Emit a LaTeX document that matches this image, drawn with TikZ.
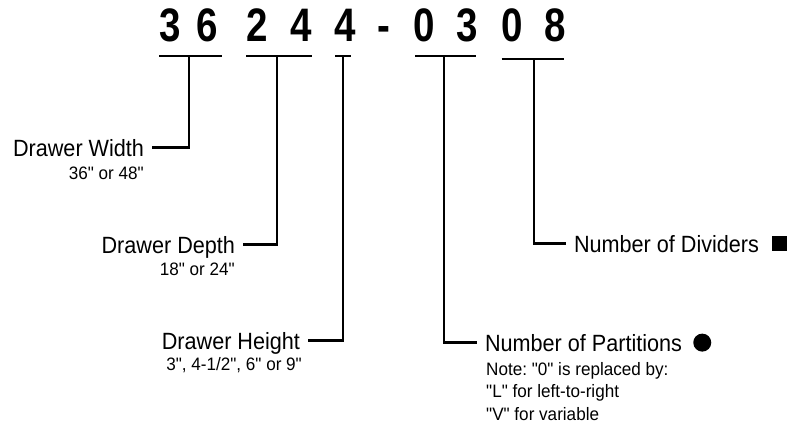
\documentclass[tikz,border=0pt]{standalone}
\usepackage{fontspec}
\setmainfont{Liberation Sans}[Ligatures=TeXOff]
\newfontfamily\codefont{Liberation Sans}[FakeStretch=0.82]
\newfontfamily\namefont{Liberation Sans}[Ligatures=TeXOff,FakeStretch=0.92]
\newfontfamily\notefont{Liberation Sans}[Ligatures=TeXOff,FakeStretch=0.95]
\usetikzlibrary{positioning}
\frenchspacing
\tikzset{
  lead/.style={line width=2.4bp},
  digit/.style={inner sep=0pt,anchor=base,font=\codefont\bfseries\fontsize{47bp}{47bp}\selectfont},
  fieldname/.style={inner sep=0pt,outer xsep=8bp,text height=16.8bp,text depth=0pt,font=\namefont\fontsize{23.5bp}{28bp}\selectfont},
  fieldnote/.style={inner sep=0pt,font=\notefont\fontsize{18bp}{21bp}\selectfont},
}

\begin{document}
\begin{tikzpicture}[x=1bp,y=-1bp]
\useasboundingbox (0,0) rectangle (788,429);
\foreach \x/\d [count=\i] in {170/3,207.5/6,257/2,301/4,345/4,384/-,424/0,467/3,512.5/0,555/8}{\node[digit] (d\i) at (\x,41.5) {\d};}
\coordinate (b1) at (189,56);
\coordinate (b2) at (277,56);
\coordinate (b3) at (343,56);
\coordinate (b4) at (444,56);
\coordinate (b5) at (534,59);
\draw[lead] (d1.west |- b1) -- ([xshift=4bp]d2.east |- b1);
\draw[lead] (d3.west |- b2) -- (d4.east |- b2);
\draw[lead] ([xshift=-8bp]b3) -- ([xshift=8bp]b3);
\draw[lead] ([xshift=2bp]d7.west |- b4) -- ([xshift=-2bp]d8.east |- b4);
\draw[lead] (d9.west |- b5) -- ([xshift=-2bp]d10.east |- b5);
\node[fieldname,anchor=base east] (wid) at (152,156) {Drawer Width};
\node[fieldnote,anchor=base east] (widnote) at (144,179) {36" or 48"};
\node[fieldname,anchor=base east] (dep) at (243,253) {Drawer Depth};
\node[fieldnote,anchor=base east] (depnote) at (235,275) {18" or 24"};
\node[fieldname,anchor=base east] (hgt) at (308,349) {Drawer Height};
\node[fieldnote,anchor=base east] (hgtnote) at (302,370) {3", 4-1/2", 6" or 9"};
\node[fieldname,anchor=base west] (part) at (477,351) {Number of Partitions};
\node[circle,fill,minimum size=18bp,inner sep=0pt,right=3bp of part] (dot) {};
\node[fieldnote,anchor=base west] (partnote1) at (486,375) {Note: "0" is replaced by:};
\node[fieldnote,anchor=base west] (partnote2) at (486,397) {"L" for left-to-right};
\node[fieldnote,anchor=base west] (partnote3) at (486,420) {"V" for variable};
\node[fieldname,anchor=base west] (divs) at (566,252) {Number of Dividers};
\node[fill,minimum size=15bp,inner sep=0pt,right=5bp of divs] (box) {};
\draw[lead] (b1) |- (wid.east);
\draw[lead] (b2) |- (dep.east);
\draw[lead] (b3) |- (hgt.east);
\draw[lead] (b4) |- (part.west);
\draw[lead] (b5) |- (divs.west);
\end{tikzpicture}
\end{document}
